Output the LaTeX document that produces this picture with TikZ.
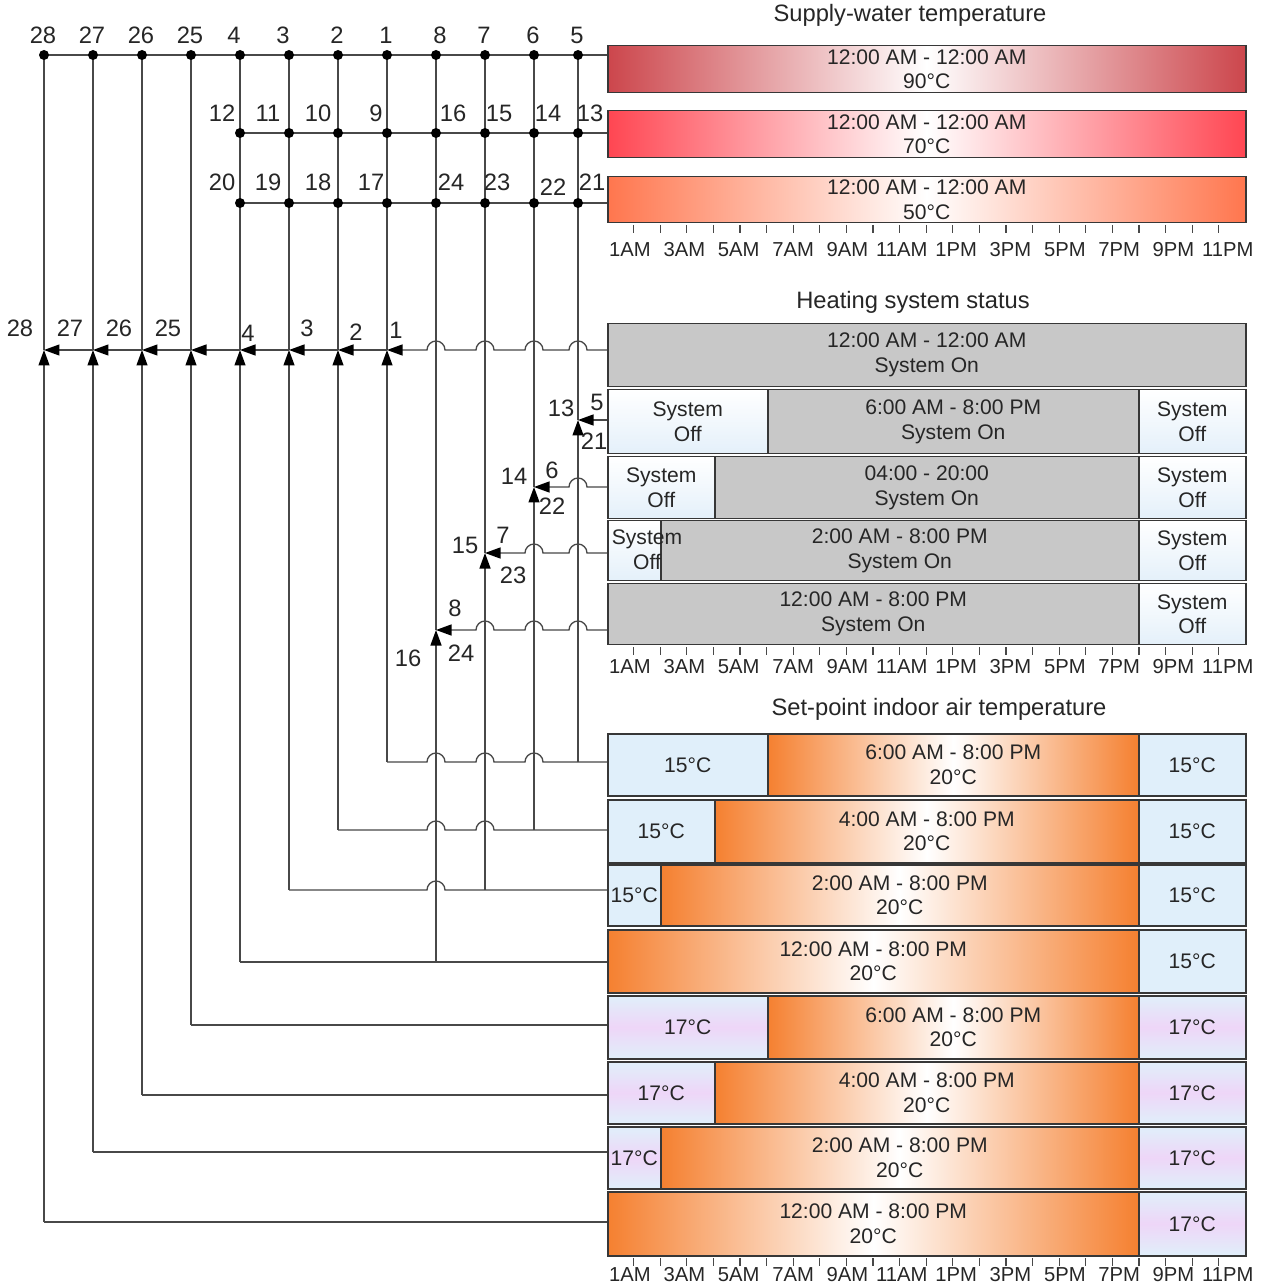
\documentclass[tikz,border=0pt]{standalone}
\usepackage{fontspec}
\setmainfont{Liberation Sans}
\usepackage{tikz}
\usetikzlibrary{arrows.meta,calc}
\definecolor{WireGray}{RGB}{72,72,72}
\definecolor{EdgeGray}{RGB}{55,55,55}
\definecolor{HotRed}{RGB}{204,70,76}
\definecolor{WarmRed}{RGB}{255,70,82}
\definecolor{MildRed}{RGB}{255,118,78}
\definecolor{OnGray}{RGB}{200,200,200}
\definecolor{OffBlue}{RGB}{228,240,250}
\definecolor{CoolBlue}{RGB}{224,239,250}
\definecolor{SoftLilac}{RGB}{238,214,248}
\definecolor{SetOrange}{RGB}{245,128,48}
% name, x1, y1, x2, y2, style, text  (pixel units)
\newcommand{\cellbox}[7]{\node[#6, anchor=north west, minimum width={(#4-#2)*0.02cm},
  minimum height={(#5-#3)*0.02cm}] (#1) at (#2,#3) {#7};}

\begin{document}
\begin{tikzpicture}[x=0.02cm, y=-0.02cm,
  wire/.style={draw=WireGray, line width=0.75pt},
  flow/.style={-{Triangle[length=0.31cm,width=0.22cm,color=black]}},
  cell/.style={draw=EdgeGray, line width=0.85pt, align=center, inner sep=1pt,
    text=black!85, font=\fontsize{12}{14.2}\selectfont},
  wbox/.style={cell, left color=#1, right color=#1, middle color=white},
  onbox/.style={cell, fill=OnGray},
  offbox/.style={cell, top color=white, bottom color=OffBlue},
  coolbox/.style={cell, fill=CoolBlue},
  lilacbox/.style={cell, top color=CoolBlue, bottom color=CoolBlue, middle color=SoftLilac},
  warmbox/.style={cell, left color=SetOrange, right color=SetOrange, middle color=white},
  tag/.style={inner sep=0pt, text=black!85, font=\fontsize{13.5}{16}\selectfont},
  heading/.style={text=black!85, font=\fontsize{13.5}{16}\selectfont},
  hour/.style={inner sep=0pt, text=black!85, font=\fontsize{11.5}{14}\selectfont},
  hourtick/.style={draw=WireGray, line width=0.6pt}]
\path[use as bounding box, fill=white] (0,0) rectangle (1275,1287);

% supply-water temperature
\node[heading] (twater) at (910,15) {Supply-water temperature};
\cellbox{sw90}{607}{45}{1245}{92}{wbox=HotRed}{12:00 AM - 12:00 AM\\90°C}
\cellbox{sw70}{607}{110}{1245}{157}{wbox=WarmRed}{12:00 AM - 12:00 AM\\70°C}
\cellbox{sw50}{607}{176}{1245}{222}{wbox=MildRed}{12:00 AM - 12:00 AM\\50°C}

% heating system status
\node[heading] (theat) at (913,302) {Heating system status};
\cellbox{hs1}{607}{323}{1245}{386}{onbox}{12:00 AM - 12:00 AM\\System On}
\cellbox{hs2b}{767}{389}{1138}{453}{onbox}{6:00 AM - 8:00 PM\\System On}
\cellbox{hs2a}{607}{389}{767}{453}{offbox}{System\\Off}
\cellbox{hs2c}{1138}{389}{1245}{453}{offbox}{System\\Off}
\cellbox{hs3b}{714}{456}{1138}{518}{onbox}{04:00 - 20:00\\System On}
\cellbox{hs3a}{607}{456}{714}{518}{offbox}{System\\Off}
\cellbox{hs3c}{1138}{456}{1245}{518}{offbox}{System\\Off}
\cellbox{hs4b}{660}{520}{1138}{580}{onbox}{2:00 AM - 8:00 PM\\System On}
\cellbox{hs4a}{607}{520}{660}{580}{offbox}{}
\cellbox{hs4c}{1138}{520}{1245}{580}{offbox}{System\\Off}
\node[align=center, inner sep=0pt, text=black!85, font=\fontsize{12}{14.2}\selectfont]
  (hs4t) at (647,550) {System\\Off};
\cellbox{hs5a}{607}{583}{1138}{644}{onbox}{12:00 AM - 8:00 PM\\System On}
\cellbox{hs5b}{1138}{583}{1245}{644}{offbox}{System\\Off}

% set-point indoor air temperature
\node[heading] (tset) at (939,709) {Set-point indoor air temperature};
\foreach \row/\ya/\yb/\xs/\sty/\cold/\from in {
  1/733/795/767/coolbox/15/6:00 AM, 2/799/862/714/coolbox/15/4:00 AM,
  3/864/925/660/coolbox/15/2:00 AM, 4/929/992/607/coolbox/15/12:00 AM,
  5/995/1058/767/lilacbox/17/6:00 AM, 6/1061/1123/714/lilacbox/17/4:00 AM,
  7/1126/1188/660/lilacbox/17/2:00 AM, 8/1191/1255/607/lilacbox/17/12:00 AM}{
  \cellbox{sp\row b}{\xs}{\ya}{1138}{\yb}{warmbox}{\from\ - 8:00 PM\\20°C}
  \ifnum\xs>607 \cellbox{sp\row a}{607}{\ya}{\xs}{\yb}{\sty}{\cold°C}\fi
  \cellbox{sp\row c}{1138}{\ya}{1245}{\yb}{\sty}{\cold°C}
}

% time axes
\foreach \ax/\yt/\yl in {1/225/250, 2/647/667, 3/1258/1275}{
  \foreach \h in {1,...,23}
    \draw[hourtick] ({607+\h*26.6},\yt) -- ++(0,8);
  \foreach \k/\lab in {0/1AM,1/3AM,2/5AM,3/7AM,4/9AM,5/11AM,6/1PM,7/3PM,8/5PM,9/7PM,10/9PM,11/11PM}
    \node[hour] (ax\ax-\k) at ({630+\k*54.35},\yl) {\lab};
}

% columns and junctions
\foreach \n/\x in {28/44,27/93,26/142,25/191,4/240,3/289,2/338,1/387,8/436,7/485,6/534,5/578}
  \coordinate (t\n) at (\x,55);
\foreach \n/\x in {4/240,3/289,2/338,1/387,8/436,7/485,6/534,5/578}{
  \coordinate (m\n) at (\x,133);
  \coordinate (l\n) at (\x,203);}
\foreach \n/\x/\y in {28/44/350,27/93/350,26/142/350,25/191/350,4/240/350,3/289/350,
  2/338/350,1/387/350,8/436/630,7/485/553,6/534/487,5/578/420}
  \coordinate (h\n) at (\x,\y);
\foreach \n/\x/\y in {28/44/1222,27/93/1152,26/142/1095,25/191/1025,4/240/962,3/289/890,
  2/338/830,1/387/762,8/436/962,7/485/890,6/534/830,5/578/762}
  \coordinate (s\n) at (\x,\y);

% buses
\draw[wire] (t28) -- (sw90.west |- t28);
\draw[wire] (m4) -- (sw70.west |- m4);
\draw[wire] (l4) -- (sw50.west |- l4);
\foreach \n in {28,27,26,25,4,3,2,1,8,7,6,5}{
  \draw[wire] (t\n) -- (h\n);
  \draw[wire, flow] (s\n) -- (h\n);}
\foreach \a/\b in {1/2,2/3,3/4,4/25,25/26,26/27,27/28}
  \draw[wire, flow] (h\a) -- (h\b);

% heating status lines
\draw[wire, flow] (hs1.west |- h1) foreach \c in {5,6,7,8}
  { -- ($(t\c |- h1)+(9,0)$) arc[start angle=0, end angle=180, radius=0.18cm] } -- (h1);
\draw[wire, flow] (hs2a.west |- h5) -- (h5);
\draw[wire, flow] (hs3a.west |- h6) foreach \c in {5}
  { -- ($(t\c |- h6)+(9,0)$) arc[start angle=0, end angle=180, radius=0.18cm] } -- (h6);
\draw[wire, flow] (hs4a.west |- h7) foreach \c in {5,6}
  { -- ($(t\c |- h7)+(9,0)$) arc[start angle=0, end angle=180, radius=0.18cm] } -- (h7);
\draw[wire, flow] (hs5a.west |- h8) foreach \c in {5,6,7}
  { -- ($(t\c |- h8)+(9,0)$) arc[start angle=0, end angle=180, radius=0.18cm] } -- (h8);

% set-point lines
\draw[wire] (sp1a.west |- s1) foreach \c in {6,7,8}
  { -- ($(t\c |- s1)+(9,0)$) arc[start angle=0, end angle=180, radius=0.18cm] } -- (s1);
\draw[wire] (sp2a.west |- s2) foreach \c in {7,8}
  { -- ($(t\c |- s2)+(9,0)$) arc[start angle=0, end angle=180, radius=0.18cm] } -- (s2);
\draw[wire] (sp3a.west |- s3) foreach \c in {8}
  { -- ($(t\c |- s3)+(9,0)$) arc[start angle=0, end angle=180, radius=0.18cm] } -- (s3);
\draw[wire] (sp4b.west |- s4) -- (s4);
\foreach \row/\n in {5/25,6/26,7/27}
  \draw[wire] (sp\row a.west |- s\n) -- (s\n);
\draw[wire] (sp8b.west |- s28) -- (s28);

% dots
\foreach \n in {28,27,26,25,4,3,2,1,8,7,6,5}
  \fill (t\n) circle (0.1cm);
\foreach \n in {4,3,2,1,8,7,6,5}{
  \fill (m\n) circle (0.1cm);
  \fill (l\n) circle (0.1cm);}

% numbers
\foreach \n/\x in {28/43,27/92,26/141,25/190,4/234,3/283,2/337,1/386,8/440,7/484,6/533,5/577}
  \node[tag] (nt\n) at (\x,35) {\n};
\foreach \n/\x in {12/222,11/268,10/318,9/376,16/453,15/499,14/548,13/590}
  \node[tag] (nm\n) at (\x,113) {\n};
\foreach \n/\x/\y in {20/222/182,19/268/182,18/318/182,17/371/182,24/451/182,23/497/182,22/553/187,21/592/182}
  \node[tag] (nl\n) at (\x,\y) {\n};
\foreach \n/\x/\y in {28/20/328,27/70/328,26/119/328,25/168/328,4/248/333,3/307/328,2/356/332,1/396/330,
  13/561/408,5/597/402,21/594/441,14/514/476,6/552/470,22/552/506,15/465/545,7/503/535,23/513/575,
  8/455/608,16/408/658,24/461/653}
  \node[tag] (nh\n) at (\x,\y) {\n};
\end{tikzpicture}
\end{document}
